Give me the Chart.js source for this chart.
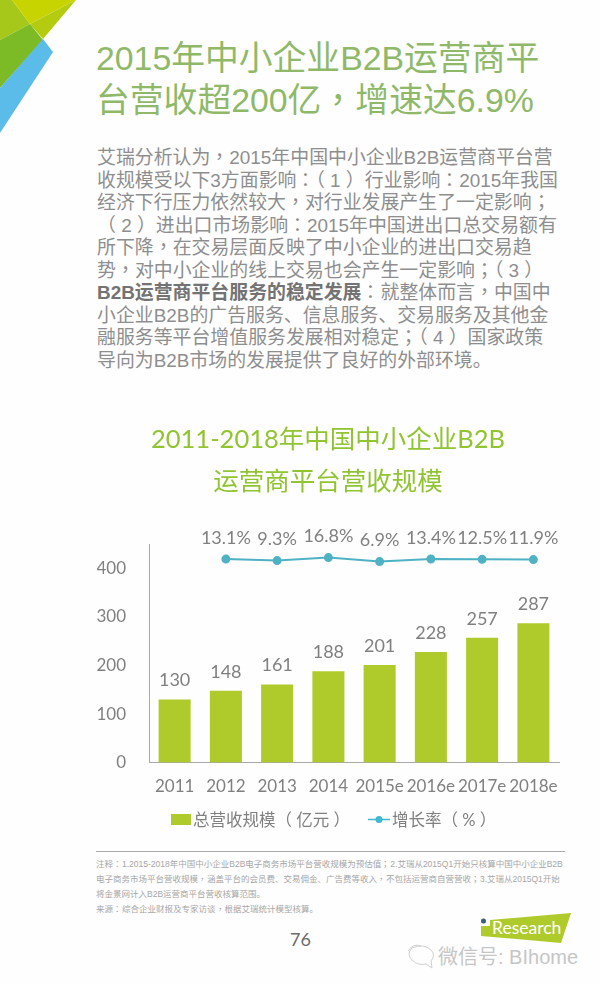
<!DOCTYPE html>
<html>
<head>
<meta charset="utf-8">
<script src="https://cdn.jsdelivr.net/npm/chart.js@4/dist/chart.umd.js"></script>
<style>
  /* comma, colon and semicolon sit centred in the original, as in the TC cut */
  @font-face { font-family: "Punct"; src: local("Noto Sans CJK TC"), local("Noto Sans CJK TC Regular"), local("NotoSansCJKtc-Regular"); unicode-range: U+FF0C, U+FF1A, U+FF1B; }
  html, body { margin: 0; padding: 0; background: #fefefe; }
  body { position: relative; width: 600px; height: 984px; overflow: hidden; font-family: "Liberation Sans", "Punct", "Noto Sans CJK SC", sans-serif; }
  .abs { position: absolute; white-space: pre; }
  #head { left: 96px; top: 37px; font-size: 33.8px; line-height: 42px; color: #8fb968; }
  #body { left: 97px; top: 147px; font-size: 18.9px; line-height: 22.5px; color: #8e8e8e; }
  #body b { color: #737373; }
  #notes { left: 96px; top: 857px; font-size: 8.5px; line-height: 15px; color: #a6a6a6; }
  #rule { left: 96px; top: 851px; width: 469px; height: 1px; background: #a8a8a8; }
  #page { left: 290px; top: 928px; font: 18px Lato, sans-serif; color: #6c6c6c; }
  #wx { left: 438px; top: 941px; font-size: 20px; color: #c6c6c6; }
  #res { left: 492px; top: 917px; font: 17.5px Lato, sans-serif; color: #fff; }
  #wrap { position: absolute; left: 0; top: 410px; width: 600px; height: 401px; }
  .lg { top: 809px; font-size: 16.5px; line-height: 22px; color: #808080; font-family: Lato, "Noto Sans CJK SC", sans-serif; }
</style>
</head>
<body>
<svg class="abs" style="left:0;top:0" width="90" height="140">
  <polygon points="0,0 12,0 30,24 0,40" fill="#a5c81a"/>
  <polygon points="12,0 76,0 30,24" fill="#c8d400"/>
  <polygon points="30,24 76,0 43,39" fill="#b4cc10"/>
  <polygon points="0,40 30,24 43,40 0,88" fill="#7cbb25"/>
  <polygon points="43,39 53,52 0,133 0,88" fill="#5bbcea"/>
</svg>
<div class="abs" id="head">2015年中小企业B2B运营商平
台营收超200亿，增速达6.9%</div>
<div class="abs" id="body">艾瑞分析认为，2015年中国中小企业B2B运营商平台营
收规模受以下3方面影响：（ 1 ）行业影响：2015年我国
经济下行压力依然较大，对行业发展产生了一定影响；
（ 2 ）进出口市场影响：2015年中国进出口总交易额有
所下降，在交易层面反映了中小企业的进出口交易趋
势，对中小企业的线上交易也会产生一定影响；（ 3 ）
<b>B2B运营商平台服务的稳定发展</b>：就整体而言，中国中
小企业B2B的广告服务、信息服务、交易服务及其他金
融服务等平台增值服务发展相对稳定；（ 4 ）国家政策
导向为B2B市场的发展提供了良好的外部环境。</div>
<div id="wrap"><canvas id="myChart"></canvas></div>
<svg class="abs" style="left:165px;top:810px" width="230" height="20">
  <rect x="6" y="4" width="20" height="11" fill="#aecb2b"/>
  <line x1="203" y1="9.5" x2="225" y2="9.5" stroke="#3fb8d0" stroke-width="1.5"/>
  <circle cx="214" cy="9.5" r="3.5" fill="#3fb8d0"/>
</svg>
<div class="abs lg" id="lg1" style="left:193px"></div>
<div class="abs lg" id="lg2" style="left:392px"></div>
<div class="abs" id="rule"></div>
<div class="abs" id="notes">注释：1.2015-2018年中国中小企业B2B电子商务市场平台营收规模为预估值；2.艾瑞从2015Q1开始只核算中国中小企业B2B
电子商务市场平台营收规模，涵盖平台的会员费、交易佣金、广告费等收入，不包括运营商自营营收；3.艾瑞从2015Q1开始
将金景网计入B2B运营商平台营收核算范围。
来源：综合企业财报及专家访谈，根据艾瑞统计模型核算。</div>
<div class="abs" id="page">76</div>
<svg class="abs" style="left:400px;top:905px" width="180" height="70">
  <polygon points="90,15 171,8 161,38 81,31 81,21 90,21" fill="#aecb2b"/>
  <circle cx="83.5" cy="16" r="2.5" fill="#3f5d78"/>
  <path d="M8 46 q5 -8 13 -5 M12 43 q-6 6 0 12 q6 6 14 4 l6 4 l-1 -7 q5 -6 0 -11 q-7 -7 -19 -2" fill="none" stroke="#cfcfcf" stroke-width="1"/>
</svg>
<div class="abs" id="res">Research</div>
<div class="abs" id="wx">微信号: BIhome</div>
<script>
const years = ["2011", "2012", "2013", "2014", "2015e", "2016e", "2017e", "2018e"];
const revenue = [130, 148, 161, 188, 201, 228, 257, 287];
const growth = [null, 13.1, 9.3, 16.8, 6.9, 13.4, 12.5, 11.9];
const titleLines = ["2011-2018年中国中小企业B2B", "运营商平台营收规模"];
const revenueName = "总营收规模（ 亿元 ）";
const growthName = "增长率（ % ）";

const labelFont = 'Lato, "Noto Sans CJK SC", sans-serif';
const grey = "#808080";

document.getElementById("lg1").textContent = revenueName;
document.getElementById("lg2").textContent = growthName;

// value labels above bars and line points
const valueLabels = {
  id: "valueLabels",
  afterDatasetsDraw(chart) {
    const ctx = chart.ctx;
    ctx.save();
    ctx.fillStyle = grey;
    ctx.font = "18px " + labelFont;
    ctx.textAlign = "center";
    ctx.textBaseline = "middle";
    chart.getDatasetMeta(0).data.forEach((el, i) => {
      ctx.fillText(revenue[i], el.x, el.y - 19);
    });
    chart.getDatasetMeta(1).data.forEach((el, i) => {
      if (growth[i] !== null) ctx.fillText(growth[i].toFixed(1) + "%", el.x, el.y - 21);
    });
    ctx.restore();
  }
};

new Chart(document.getElementById("myChart"), {
  data: {
    labels: years,
    datasets: [
      { type: "bar", label: revenueName, data: revenue, backgroundColor: "#aecb2b", barPercentage: 0.625, categoryPercentage: 1, yAxisID: "y", order: 2 },
      { type: "line", label: growthName, data: growth, borderColor: "#4fb2c4", backgroundColor: "#4fb2c4", borderWidth: 2, pointRadius: 3.5, tension: 0, yAxisID: "y2", order: 1 }
    ]
  },
  options: {
    responsive: true,
    maintainAspectRatio: false,
    animation: false,
    layout: { padding: { left: 97, right: 41, top: 0, bottom: 0 } },
    plugins: {
      tooltip: { enabled: false },
      legend: { display: false },
      title: {
        display: true,
        text: titleLines,
        color: "#90c431",
        font: { size: 25.5, weight: "normal", family: labelFont, lineHeight: 1.65 },
        padding: { top: 9, bottom: 41 }
      }
    },
    scales: {
      x: {
        grid: { display: false, drawTicks: false },
        border: { color: "#a8a8a8" },
        ticks: { color: grey, font: { size: 17, family: labelFont }, padding: 14, maxRotation: 0, autoSkip: false }
      },
      y: {
        min: 0,
        max: 450,
        grid: { display: false, drawTicks: false },
        border: { color: "#a8a8a8" },
        afterFit(scale) { scale.width = 52; },
        ticks: { stepSize: 100, includeBounds: false, color: grey, font: { size: 17, family: labelFont }, padding: 23 }
      },
      y2: { display: false, min: -490, max: 50 }
    }
  },
  plugins: [valueLabels]
});
</script>
</body>
</html>
